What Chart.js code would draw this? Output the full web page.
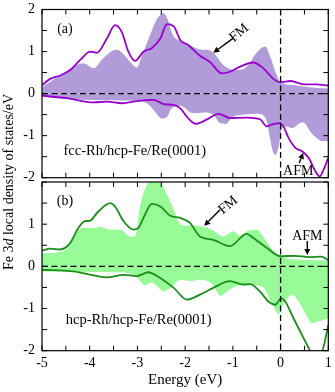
<!DOCTYPE html>
<html><head><meta charset="utf-8">
<script src="https://cdn.jsdelivr.net/npm/chart.js@4/dist/chart.umd.min.js"></script>
<style>
html,body{margin:0;padding:0;background:#fff;}
#wrap{position:relative;width:335px;height:392px;background:#fff;}
canvas{position:absolute;left:0;top:0;}
</style></head><body>
<div id="wrap"><canvas id="ca" width="335" height="392"></canvas><canvas id="cb" width="335" height="392"></canvas></div>
<script>
// ---------- data: panel (a) fcc-Rh/hcp-Fe/Re(0001) ----------
const aFmUpX = [-5,-4.83,-4.62,-4.41,-4.2,-3.99,-3.85,-3.64,-3.47,-3.33,-3.19,-3.05,-2.87,-2.7,-2.52,-2.38,-2.24,-2.1,-1.93,-1.69,-1.48,-1.23,-1.06,-0.85,-0.57,-0.36,-0.15,0,0.21,0.49,0.75,1];
const aFmUpY = [0.2,0.35,0.43,0.56,0.8,1.0,0.97,1.31,1.63,1.47,1.0,0.78,1.0,1.08,1.31,1.65,1.6,1.27,1.15,0.9,0.75,0.48,0.52,0.64,0.74,0.6,0.35,0.27,0.3,0.22,0.22,0.19];
const aFmDnX = [-5,-4.48,-3.92,-3.64,-3.33,-3.08,-2.66,-2.45,-2.25,-2.1,-2.0,-1.9,-1.78,-1.55,-1.3,-1.06,-0.71,-0.43,-0.29,-0.19,-0.01,0.06,0.17,0.31,0.45,0.59,0.73,0.82,0.9,1];
const aFmDnY = [-0.05,-0.11,-0.21,-0.19,-0.23,-0.19,-0.15,-0.25,-0.27,-0.35,-0.5,-0.63,-0.72,-0.62,-0.48,-0.58,-0.57,-0.61,-0.78,-0.74,-0.7,-0.78,-1.06,-1.29,-1.37,-1.53,-1.85,-1.97,-1.81,-1.53];
const aAfmUpX = [-5,-4.78,-4.5,-4.3,-4.13,-3.92,-3.75,-3.55,-3.43,-3.3,-3.15,-3.01,-2.92,-2.75,-2.6,-2.46,-2.38,-2.25,-2.1,-1.9,-1.69,-1.55,-1.41,-1.2,-0.95,-0.71,-0.5,-0.32,-0.22,-0.11,0,0.3,0.6,1];
const aAfmUpY = [0.15,0.32,0.5,0.66,0.72,0.6,0.8,1.0,1.04,0.95,0.75,0.62,0.85,1.35,1.75,1.91,1.8,1.38,1.25,1.15,1.05,1.04,0.98,0.68,0.56,0.64,0.98,1.12,0.88,0.52,0.27,0.2,0.15,0.12];
const aAfmDnX = [-5,-4,-3,-2.8,-2.63,-2.49,-2.38,-2.28,-2.1,-1.83,-1.6,-1.41,-1.27,-1.15,-1.0,-0.8,-0.5,-0.36,-0.29,-0.22,-0.15,-0.1,-0.04,0.03,0.13,0.24,0.41,0.48,0.62,0.76,0.87,1];
const aAfmDnY = [-0.08,-0.15,-0.17,-0.23,-0.43,-0.59,-0.55,-0.35,-0.29,-0.47,-0.45,-0.5,-0.7,-0.72,-0.55,-0.5,-0.48,-0.52,-0.66,-1.06,-1.41,-1.45,-1.25,-0.82,-0.78,-0.82,-0.7,-0.69,-0.9,-1.06,-1.13,-1.13];

// ---------- data: panel (b) hcp-Rh/hcp-Fe/Re(0001) ----------
const bFmUpX = [-5,-4.83,-4.62,-4.41,-4.24,-4.1,-4.0,-3.82,-3.57,-3.47,-3.29,-3.08,-2.98,-2.84,-2.7,-2.52,-2.31,-2.1,-1.9,-1.69,-1.41,-1.06,-0.71,-0.57,-0.29,0,0.3,0.6,0.85,1];
const bFmUpY = [0.37,0.42,0.4,0.55,0.91,1.07,1.08,1.3,1.5,1.42,1.07,0.87,0.91,1.23,1.48,1.42,1.2,1.15,1.03,0.71,0.63,0.48,0.77,0.67,0.44,0.24,0.25,0.22,0.23,0.15];
const bFmDnX = [-5,-4.34,-3.64,-3.29,-3.01,-2.77,-2.59,-2.24,-1.96,-1.69,-1.41,-1.06,-0.78,-0.64,-0.43,-0.25,-0.11,0.01,0.1,0.27,0.45,0.61,0.75,0.87,0.92,1];
const bFmDnY = [-0.08,-0.12,-0.26,-0.2,-0.23,-0.14,-0.23,-0.51,-0.79,-0.67,-0.51,-0.35,-0.43,-0.42,-0.6,-0.84,-0.91,-0.76,-0.84,-1.23,-1.63,-1.98,-2.25,-2.02,-1.82,-1.39];
const bAfmUpX = [-5,-4.62,-4.41,-4.31,-4.13,-3.92,-3.78,-3.57,-3.36,-3.15,-3.05,-2.94,-2.8,-2.7,-2.6,-2.52,-2.38,-2.24,-2.1,-1.9,-1.69,-1.41,-1.2,-0.99,-0.85,-0.71,-0.5,-0.32,-0.18,0,0.4,1];
const bAfmUpY = [0.31,0.34,0.51,0.79,0.91,0.91,0.94,0.87,0.87,0.71,0.71,1.46,1.94,2.1,2.05,1.98,1.7,1.34,1.0,0.96,0.95,0.85,0.71,0.83,0.72,0.83,0.87,0.63,0.4,0.24,0.16,0.14];
const bAfmDnX = [-5,-3.5,-3.1,-2.96,-2.84,-2.73,-2.64,-2.57,-2.45,-2.3,-2.1,-1.9,-1.69,-1.41,-1.27,-1.06,-0.85,-0.57,-0.36,-0.22,-0.11,-0.04,0.03,0.17,0.25,0.38,0.52,0.66,0.8,0.9,1];
const bAfmDnY = [-0.12,-0.14,-0.18,-0.33,-0.45,-0.38,-0.41,-0.49,-0.59,-0.5,-0.32,-0.35,-0.32,-0.45,-0.7,-0.55,-0.45,-0.45,-0.5,-0.8,-1.03,-1.15,-0.96,-0.72,-0.68,-0.84,-1.11,-1.35,-1.31,-1.27,-1.23];

// ---------- axes / tick labels ----------
const xMin = -5, xMax = 1, yMin = -2, yMax = 2;
const xTickLabels = [-5,-4,-3,-2,-1,0,1];
const yTickLabels = [-2,-1,0,1,2];
const minorStep = 0.5;
const xTitle = 'Energy (eV)';
const yTitleParts = [['Fe 3',false],['d',true],[' local density of states/eV',false]];

const FONT = "'Liberation Serif','Times New Roman',serif";
const pts = (xs, ys) => xs.map((x, i) => ({x, y: ys[i]}));

function arrow(ctx, x1, y1, x2, y2) {
  ctx.save();
  ctx.strokeStyle = '#000'; ctx.fillStyle = '#000'; ctx.lineWidth = 1.4;
  const a = Math.atan2(y2 - y1, x2 - x1), L = 6, W = 3;
  const bx = x2 - L * Math.cos(a), by = y2 - L * Math.sin(a);
  ctx.beginPath(); ctx.moveTo(x1, y1); ctx.lineTo(bx, by); ctx.stroke();
  ctx.beginPath(); ctx.moveTo(x2, y2);
  ctx.lineTo(bx + W * Math.sin(a), by - W * Math.cos(a));
  ctx.lineTo(bx - W * Math.sin(a), by + W * Math.cos(a));
  ctx.closePath(); ctx.fill();
  ctx.restore();
}

function decorPlugin(ann, isA) {
  return {
    id: 'decor',
    afterDatasetsDraw(chart) {
      const ctx = chart.ctx, xs = chart.scales.x, ys = chart.scales.y, ca = chart.chartArea;
      const X = v => xs.getPixelForValue(v), Y = v => ys.getPixelForValue(v);
      ctx.save();
      // dashed zero lines
      ctx.strokeStyle = '#000'; ctx.lineWidth = 1.3; ctx.setLineDash([6, 3.5]);
      ctx.beginPath(); ctx.moveTo(ca.left, Y(0)); ctx.lineTo(ca.right, Y(0)); ctx.stroke();
      ctx.beginPath(); ctx.moveTo(X(0), ca.top); ctx.lineTo(X(0), ca.bottom); ctx.stroke();
      ctx.setLineDash([]);
      // frame
      ctx.lineWidth = 1.2;
      ctx.strokeRect(ca.left, ca.top, ca.right - ca.left, ca.bottom - ca.top);
      // ticks
      ctx.lineWidth = 1;
      const T = 5;
      for (let v = xMin; v <= xMax + 1e-9; v += minorStep) {
        const p = X(v);
        ctx.beginPath(); ctx.moveTo(p, ca.bottom); ctx.lineTo(p, ca.bottom - T);
        ctx.moveTo(p, ca.top); ctx.lineTo(p, ca.top + T); ctx.stroke();
      }
      for (let v = yMin; v <= yMax + 1e-9; v += minorStep) {
        const p = Y(v);
        ctx.beginPath(); ctx.moveTo(ca.left, p); ctx.lineTo(ca.left + T, p);
        ctx.moveTo(ca.right, p); ctx.lineTo(ca.right - T, p); ctx.stroke();
      }
      // annotations
      ctx.fillStyle = '#000';
      ctx.textBaseline = 'middle';
      ctx.font = '14px ' + FONT;
      ctx.textAlign = 'center';
      ctx.fillText(ann.tag, X(ann.tagX), Y(ann.tagY));
      ctx.font = '14.5px ' + FONT;
      ctx.textAlign = 'left';
      ctx.fillText(ann.label, X(ann.labelX), Y(ann.labelY));
      ctx.font = '14px ' + FONT;
      ctx.textAlign = 'center';
      ctx.save();
      ctx.translate(X(ann.fmX), Y(ann.fmY)); ctx.rotate(-40 * Math.PI / 180);
      ctx.fillText('FM', 0, 0); ctx.restore();
      arrow(ctx, X(ann.fmA[0]), Y(ann.fmA[1]), X(ann.fmA[2]), Y(ann.fmA[3]));
      ctx.fillText('AFM', X(ann.afmX), Y(ann.afmY));
      arrow(ctx, X(ann.afmA[0]), Y(ann.afmA[1]), X(ann.afmA[2]), Y(ann.afmA[3]));
      // axis titles
      if (isA) {
        ctx.save();
        ctx.translate(9, 182); ctx.rotate(-Math.PI / 2);
        let total = 0;
        const w = yTitleParts.map(([t, it]) => { ctx.font = (it ? 'italic ' : '') + '14px ' + FONT; const m = ctx.measureText(t).width; total += m; return m; });
        let cx = -total / 2;
        ctx.textAlign = 'left';
        yTitleParts.forEach(([t, it], i) => { ctx.font = (it ? 'italic ' : '') + '14px ' + FONT; ctx.fillText(t, cx, 0); cx += w[i]; });
        ctx.restore();
      } else {
        ctx.font = '15px ' + FONT; ctx.textAlign = 'center';
        ctx.fillText(xTitle, (ca.left + ca.right) / 2, 380);
      }
      ctx.restore();
    }
  };
}

function makeChart(id, d, colors, ann, isA) {
  const common = {pointRadius: 0, cubicInterpolationMode: 'monotone'};
  return new Chart(document.getElementById(id), {
    type: 'line',
    data: {datasets: [
      {...common, data: pts(d.fmUpX, d.fmUpY), borderColor: colors.line, borderWidth: 1.8, fill: false, order: 1},
      {...common, data: pts(d.fmDnX, d.fmDnY), borderColor: colors.line, borderWidth: 1.8, fill: false, order: 1},
      {...common, data: pts(d.afmUpX, d.afmUpY), borderWidth: 0, borderColor: colors.fill, backgroundColor: colors.fill, fill: 'origin', order: 2},
      {...common, data: pts(d.afmDnX, d.afmDnY), borderWidth: 0, borderColor: colors.fill, backgroundColor: colors.fill, fill: 'origin', order: 2}
    ]},
    options: {
      responsive: false, animation: false, devicePixelRatio: 1,
      plugins: {legend: {display: false}, tooltip: {enabled: false}},
      layout: {padding: isA ? {left: 0, right: 6.7, top: 9.5, bottom: 214.3} : {left: 0, right: 6.7, top: 182, bottom: 0}},
      scales: {
        x: {type: 'linear', min: xMin, max: xMax, display: !isA,
            grid: {display: false, drawTicks: false}, border: {display: false},
            ticks: {stepSize: 1, color: '#000', font: {family: FONT, size: 14}, padding: 4,
                    callback: v => xTickLabels.includes(v) ? String(v) : ''},
            afterFit: s => { s.height = isA ? 0 : 41.3; s.paddingLeft = 0; s.paddingRight = 0; }},
        y: {type: 'linear', min: yMin, max: yMax,
            grid: {display: false, drawTicks: false}, border: {display: false},
            ticks: {stepSize: 1, color: '#000', font: {family: FONT, size: 14}, padding: 7,
                    callback: v => (yTickLabels.includes(v) && (isA || v !== 2)) ? String(v) : ''},
            afterFit: s => { s.width = 42; s.paddingTop = 0; s.paddingBottom = 0; }}
      }
    },
    plugins: [decorPlugin(ann, isA)]
  });
}

makeChart('ca',
  {fmUpX: aFmUpX, fmUpY: aFmUpY, fmDnX: aFmDnX, fmDnY: aFmDnY, afmUpX: aAfmUpX, afmUpY: aAfmUpY, afmDnX: aAfmDnX, afmDnY: aAfmDnY},
  {line: '#9900cc', fill: '#b19cd9'},
  {tag: '(a)', tagX: -4.52, tagY: 1.54, label: 'fcc-Rh/hcp-Fe/Re(0001)', labelX: -4.55, labelY: -1.37,
   fmX: -0.87, fmY: 1.44, fmA: [-0.99, 1.32, -1.41, 0.97],
   afmX: 0.37, afmY: -1.86, afmA: [0.39, -1.65, 0.475, -1.41]}, true);

makeChart('cb',
  {fmUpX: bFmUpX, fmUpY: bFmUpY, fmDnX: bFmDnX, fmDnY: bFmDnY, afmUpX: bAfmUpX, afmUpY: bAfmUpY, afmDnX: bAfmDnX, afmDnY: bAfmDnY},
  {line: '#1a8f1a', fill: '#98fb98'},
  {tag: '(b)', tagX: -4.52, tagY: 1.55, label: 'hcp-Rh/hcp-Fe/Re(0001)', labelX: -4.5, labelY: -1.27,
   fmX: -1.1, fmY: 1.45, fmA: [-1.27, 1.34, -1.6, 0.96],
   afmX: 0.56, afmY: 0.72, afmA: [0.56, 0.6, 0.56, 0.27]}, false);
</script>
</body></html>
